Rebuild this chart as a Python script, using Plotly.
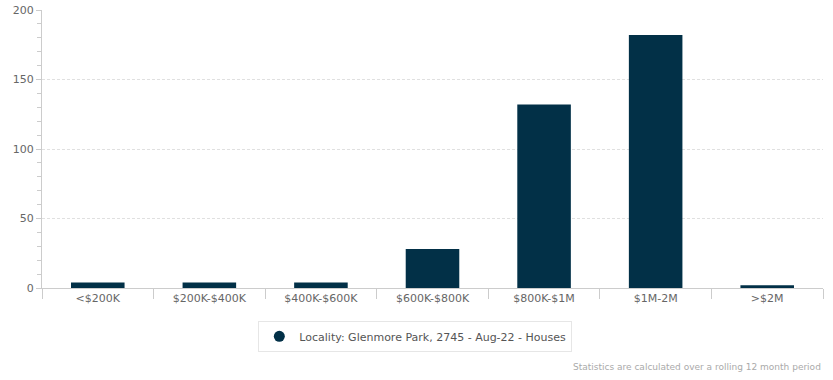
import plotly.graph_objects as go

categories = ["<$200K", "$200K-$400K", "$400K-$600K", "$600K-$800K", "$800K-$1M", "$1M-2M", ">$2M"]
values = [4, 4, 4, 28, 132, 182, 2]
series_name = "Locality: Glenmore Park, 2745 - Aug-22 - Houses"
bar_color = "#023047"

fig = go.Figure()
fig.add_trace(go.Bar(x=categories, y=values, marker=dict(color=bar_color, line=dict(width=0)),
                     showlegend=False, name=series_name))
fig.add_trace(go.Scatter(x=[None], y=[None], mode="markers", name=series_name,
                         marker=dict(color=bar_color, size=11, symbol="circle")))

fig.update_layout(
    width=833, height=380,
    margin=dict(l=42, r=10, t=10, b=92, autoexpand=False),
    plot_bgcolor="white", paper_bgcolor="white",
    font=dict(family="DejaVu Sans", size=11, color="#666666"),
    bargap=0.52,
    xaxis=dict(showline=True, linecolor="#cccccc", linewidth=1, automargin=False,
               ticks="outside", tickson="boundaries", ticklen=10, tickcolor="#cccccc",
               showgrid=False, tickfont=dict(size=11, color="#666666")),
    yaxis=dict(range=[0, 200], dtick=50, showline=True, linecolor="#cccccc", linewidth=1,
               automargin=False,
               ticks="outside", ticklen=5, tickcolor="#cccccc",
               showgrid=True, gridcolor="#e0e0e0", griddash="3px,2px", gridwidth=1,
               zeroline=False,
               minor=dict(dtick=10, ticks="outside", ticklen=4, tickcolor="#cccccc", showgrid=False),
               tickfont=dict(size=11, color="#666666")),
    legend=dict(orientation="h", x=0.478, xanchor="center", y=-0.118, yanchor="top",
                bordercolor="#e6e6e6", borderwidth=1, font=dict(size=11, color="#555555"),
                itemsizing="trace"),
    annotations=[dict(text="Statistics are calculated over a rolling 12 month period",
                      xref="paper", yref="paper", x=1.0, y=-0.284, xanchor="right", yanchor="middle",
                      showarrow=False, font=dict(size=9, color="#aaaaaa"))],
)

fig.write_html("out.html", config={"displayModeBar": False},
               post_script="document.body.style.margin='0';")
